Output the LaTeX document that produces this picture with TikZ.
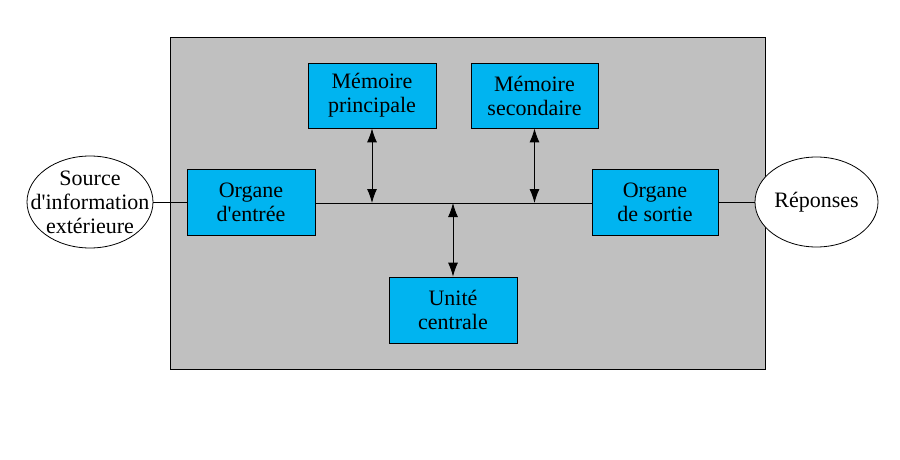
\documentclass[tikz,border=0pt]{standalone}
\usepackage{fontspec}
\setmainfont{Liberation Serif}[Ligatures=TeXOff]
\usetikzlibrary{shapes.geometric,arrows.meta}
\definecolor{boxblue}{RGB}{0,180,240}
\definecolor{panelgray}{RGB}{192,192,192}
\tikzset{
  unitbox/.style={draw=black, fill=boxblue, line width=0.8pt, align=center, inner sep=0pt,
    font=\fontsize{22}{24}\selectfont},
  extnode/.style={draw=black, fill=white, ellipse, line width=0.8pt, inner sep=0pt},
  exttext/.style={align=center, inner sep=0pt, font=\fontsize{22}{24}\selectfont},
  link/.style={draw=black, line width=0.8pt},
  biarrow/.style={draw=black, line width=0.9pt, {Latex[length=14pt,width=10pt]}-{Latex[length=14pt,width=10pt]}}
}
\begin{document}
\begin{tikzpicture}[x=1pt,y=-1pt]
\useasboundingbox (0,0) rectangle (900,460);
\fill[white] (0,0) rectangle (900,460);
\node[draw=black, fill=panelgray, line width=0.8pt, minimum width=595pt, minimum height=332pt, inner sep=0pt] (panel) at (467.5,203) {};
\node[extnode, minimum width=126pt, minimum height=92pt] (src) at (90,202) {};
\node[exttext] (srctext) at (src.center) {Source\\d'information\\extérieure};
\node[extnode, minimum width=123pt, minimum height=90pt] (rep) at (816.5,202) {};
\node[exttext] (reptext) at (rep.center) {Réponses};
\node[unitbox, minimum width=128pt, minimum height=66pt] (oe) at (251,202) {Organe\\d'entrée};
\node[unitbox, minimum width=126pt, minimum height=66pt] (os) at (655,202) {Organe\\de sortie};
\node[unitbox, minimum width=128pt, minimum height=65pt] (mp) at (372,95.5) {Mémoire\\principale};
\node[unitbox, minimum width=127pt, minimum height=65pt] (ms) at (534.5,95.5) {Mémoire\\secondaire};
\node[unitbox, minimum width=128pt, minimum height=66pt] (uc) at (453,310) {Unité\\centrale};
\coordinate (b1) at (372,203);
\coordinate (b2) at (534.5,203);
\coordinate (b3) at (453,203);
\draw[link] (src.east) -- (oe.west);
\draw[link] (os.east) -- (rep.west);
\draw[link] (oe.east |- b1) -- (os.west |- b1);
\draw[biarrow] (mp.south) -- (b1);
\draw[biarrow] (ms.south) -- (b2);
\draw[biarrow] (b3) -- (uc.north);
\end{tikzpicture}
\end{document}
